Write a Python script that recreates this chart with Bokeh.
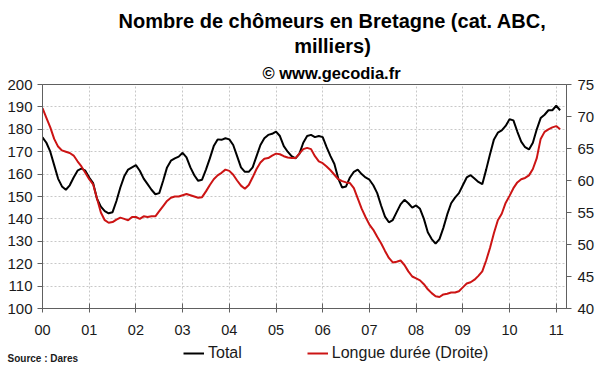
from bokeh.plotting import figure
from bokeh.layouts import column, row
from bokeh.models import Range1d, LinearAxis, Legend, LegendItem, Label, FixedTicker
from bokeh.embed import file_html
from bokeh.resources import INLINE

# ---- data (monthly, Jan 2000 .. Feb 2011) ----
year_labels = ["00", "01", "02", "03", "04", "05", "06", "07", "08", "09", "10", "11"]

total = [
    176.4, 174, 170, 164, 158, 154.5, 153, 155, 158.5, 161.5, 162.5, 161.5,      # 2000
    158.5, 156, 149, 145.5, 143.5, 142.5, 143, 148, 154, 159, 162, 163,          # 2001
    164, 161.5, 158, 155.5, 153, 151, 151.5, 157, 163, 166, 167, 167.8,          # 2002
    169.5, 167.5, 163, 159.5, 157, 157.5, 162, 167, 172.5, 175.5, 175.3, 176,    # 2003
    175.5, 173, 168, 163, 161, 161, 163, 168, 173, 176, 177.5, 178,              # 2004
    179, 177, 172.5, 170, 168, 167, 169, 174, 177, 177.5, 176.5, 177,            # 2005
    176.5, 172, 168, 164.5, 158, 154, 154.5, 158.5, 161, 162, 160, 158.5,        # 2006
    157.5, 155, 151.5, 146, 141, 138.5, 139.5, 143, 146.5, 148.5, 147, 145,      # 2007
    146, 144.5, 140, 134, 131, 129, 131, 136, 142, 147, 149.5, 151.5,            # 2008
    155, 158.5, 159.5, 158, 156.5, 155.5, 162, 169, 175.5, 178.5, 179.5, 181.5,  # 2009
    184.5, 184, 179, 174.5, 172, 171, 174, 180, 185, 186.5, 188.5, 188.5,        # 2010
    190.5, 188.5,                                                                # 2011
]

longue_duree = [
    71.3, 69.8, 68.3, 66.5, 65.3, 64.7, 64.5, 64.3, 63.9, 63.0, 62.2, 61.2,      # 2000
    60.2, 59.4, 57.2, 55.0, 53.8, 53.4, 53.5, 53.9, 54.2, 54.0, 53.8, 54.3,      # 2001
    54.3, 54.0, 54.4, 54.3, 54.4, 54.4, 55.2, 56.0, 56.8, 57.3, 57.5, 57.5,      # 2002
    57.7, 57.9, 57.7, 57.5, 57.3, 57.4, 58.3, 59.3, 60.2, 60.8, 61.2, 61.7,      # 2003
    61.5, 60.9, 60.0, 59.2, 58.7, 59.3, 60.5, 61.8, 62.8, 63.4, 63.5, 63.9,      # 2004
    64.2, 64.1, 63.8, 63.6, 63.5, 63.5, 64.2, 64.9, 65.1, 64.9, 63.8, 63.0,      # 2005
    62.7, 62.2, 61.6, 60.9, 60.2, 59.9, 59.7, 59.6, 58.8, 57.2, 55.6, 54.3,      # 2006
    53.1, 52.3, 51.2, 50.2, 49.0, 47.9, 47.2, 47.3, 47.5, 46.8, 45.8, 45.0,      # 2007
    44.7, 44.4, 43.8, 43.0, 42.4, 41.9, 41.8, 42.2, 42.3, 42.5, 42.5, 42.7,      # 2008
    43.3, 43.9, 44.1, 44.5, 45.1, 45.8, 47.5, 49.5, 51.8, 53.8, 54.8, 56.5,      # 2009
    57.6, 58.8, 59.7, 60.2, 60.4, 60.8, 61.8, 63.5, 66.5, 67.6, 68.0, 68.3,      # 2010
    68.5, 68.0,                                                                  # 2011
]

left_ticks = [100, 110, 120, 130, 140, 150, 160, 170, 180, 190, 200]
right_ticks = [40, 45, 50, 55, 60, 65, 70, 75]

x = [m / 12 for m in range(len(total))]

FONT = "Liberation Sans"
AX = "#606060"
TXT = "#1a1a1a"
BLACK = "black"
RED = "#cc1414"
W = 600


def bare(w, h):
    f = figure(width=w, height=h, output_backend="svg", toolbar_location=None,
               x_axis_type=None, y_axis_type=None,
               min_border_left=0, min_border_right=0, min_border_top=0, min_border_bottom=0)
    f.title.visible = False
    f.grid.visible = False
    f.outline_line_color = None
    f.background_fill_color = "white"
    f.border_fill_color = "white"
    return f


# ---------------- title block (its frame is aligned with the chart frame: x from 42) ----------------
top = bare(W, 58)
title_kw = dict(x_units="screen", y_units="screen", text_align="center",
                text_baseline="alphabetic", text_font=FONT, text_font_style="bold",
                text_color="black", text_font_size="20px")
top.add_layout(Label(x=290, y=38, text="Nombre de chômeurs en Bretagne (cat. ABC,", **title_kw))
top.add_layout(Label(x=290, y=13, text="milliers)", **title_kw))

# ---------------- main chart ----------------
p = figure(width=W, height=282, output_backend="svg", toolbar_location=None,
           title="© www.gecodia.fr",
           x_range=Range1d(0, 11.22), y_range=Range1d(100, 200),
           min_border_left=42, min_border_right=34, min_border_top=26, min_border_bottom=32)
p.title.align = "left"
p.title.offset = 220
p.title.standoff = 5
p.title.text_font = FONT
p.title.text_font_style = "bold"
p.title.text_font_size = "16.5px"
p.title.text_color = "black"
p.extra_y_ranges = {"right": Range1d(40, 75)}
p.background_fill_color = "white"
p.border_fill_color = "white"
p.outline_line_color = AX

p.line(x, total, line_color=BLACK, line_width=2)
p.line(x, longue_duree, line_color=RED, line_width=2, y_range_name="right")

xa = p.xaxis[0]
xa.ticker = FixedTicker(ticks=list(range(len(year_labels))))
xa.major_label_overrides = {i: lab for i, lab in enumerate(year_labels)}
xa.minor_tick_line_color = None
xa.major_tick_in = 5
xa.major_tick_out = 4
xa.major_label_standoff = 12
xa.axis_line_color = AX
xa.major_tick_line_color = AX
xa.major_label_text_font = FONT
xa.major_label_text_font_size = "14.5px"
xa.major_label_text_color = TXT

ya = p.yaxis[0]
ya.ticker = FixedTicker(ticks=left_ticks)
ya.minor_tick_line_color = None
ya.major_tick_in = 0
ya.major_tick_out = 5
ya.major_label_standoff = 5
ya.axis_line_color = AX
ya.major_tick_line_color = AX
ya.major_label_text_font = FONT
ya.major_label_text_font_size = "15px"
ya.major_label_text_color = TXT

ra = LinearAxis(y_range_name="right", ticker=FixedTicker(ticks=right_ticks))
ra.minor_tick_line_color = None
ra.major_tick_in = 0
ra.major_tick_out = 5
ra.major_label_standoff = 6
ra.axis_line_color = AX
ra.major_tick_line_color = AX
ra.major_label_text_font = FONT
ra.major_label_text_font_size = "15px"
ra.major_label_text_color = TXT
p.add_layout(ra, "right")

for g in (p.xgrid[0], p.ygrid[0]):
    g.grid_line_color = "#c8c8c8"
    g.grid_line_dash = "2 2"
    g.grid_line_width = 1

# ---------------- source + legend strip ----------------
src = bare(180, 32)
src.add_layout(Label(x=7, y=14, x_units="screen", y_units="screen", text="Source : Dares",
                     text_align="left", text_baseline="middle", text_font=FONT,
                     text_font_style="bold", text_font_size="10px", text_color=TXT))

leg = bare(W - 180, 32)
leg.x_range = Range1d(0, 1)
leg.y_range = Range1d(0, 1)
# same series; kept outside this strip's view, used only as legend sources
l1 = leg.line(x, total, line_color=BLACK, line_width=2)
l2 = leg.line(x, longue_duree, line_color=RED, line_width=2)
legend = Legend(items=[LegendItem(label="Total", renderers=[l1]),
                       LegendItem(label="Longue durée (Droite)", renderers=[l2])],
                orientation="horizontal", location=(3, 9),
                border_line_color=None, background_fill_alpha=0,
                label_text_font=FONT, label_text_font_size="16px", label_text_color=TXT,
                glyph_width=21, glyph_height=16, label_standoff=4, spacing=65,
                padding=0, margin=0, label_height=20)
leg.add_layout(legend, "center")

layout = column(top, p, row(src, leg, spacing=0), spacing=0)
open("out.html", "w").write(file_html(layout, INLINE))
